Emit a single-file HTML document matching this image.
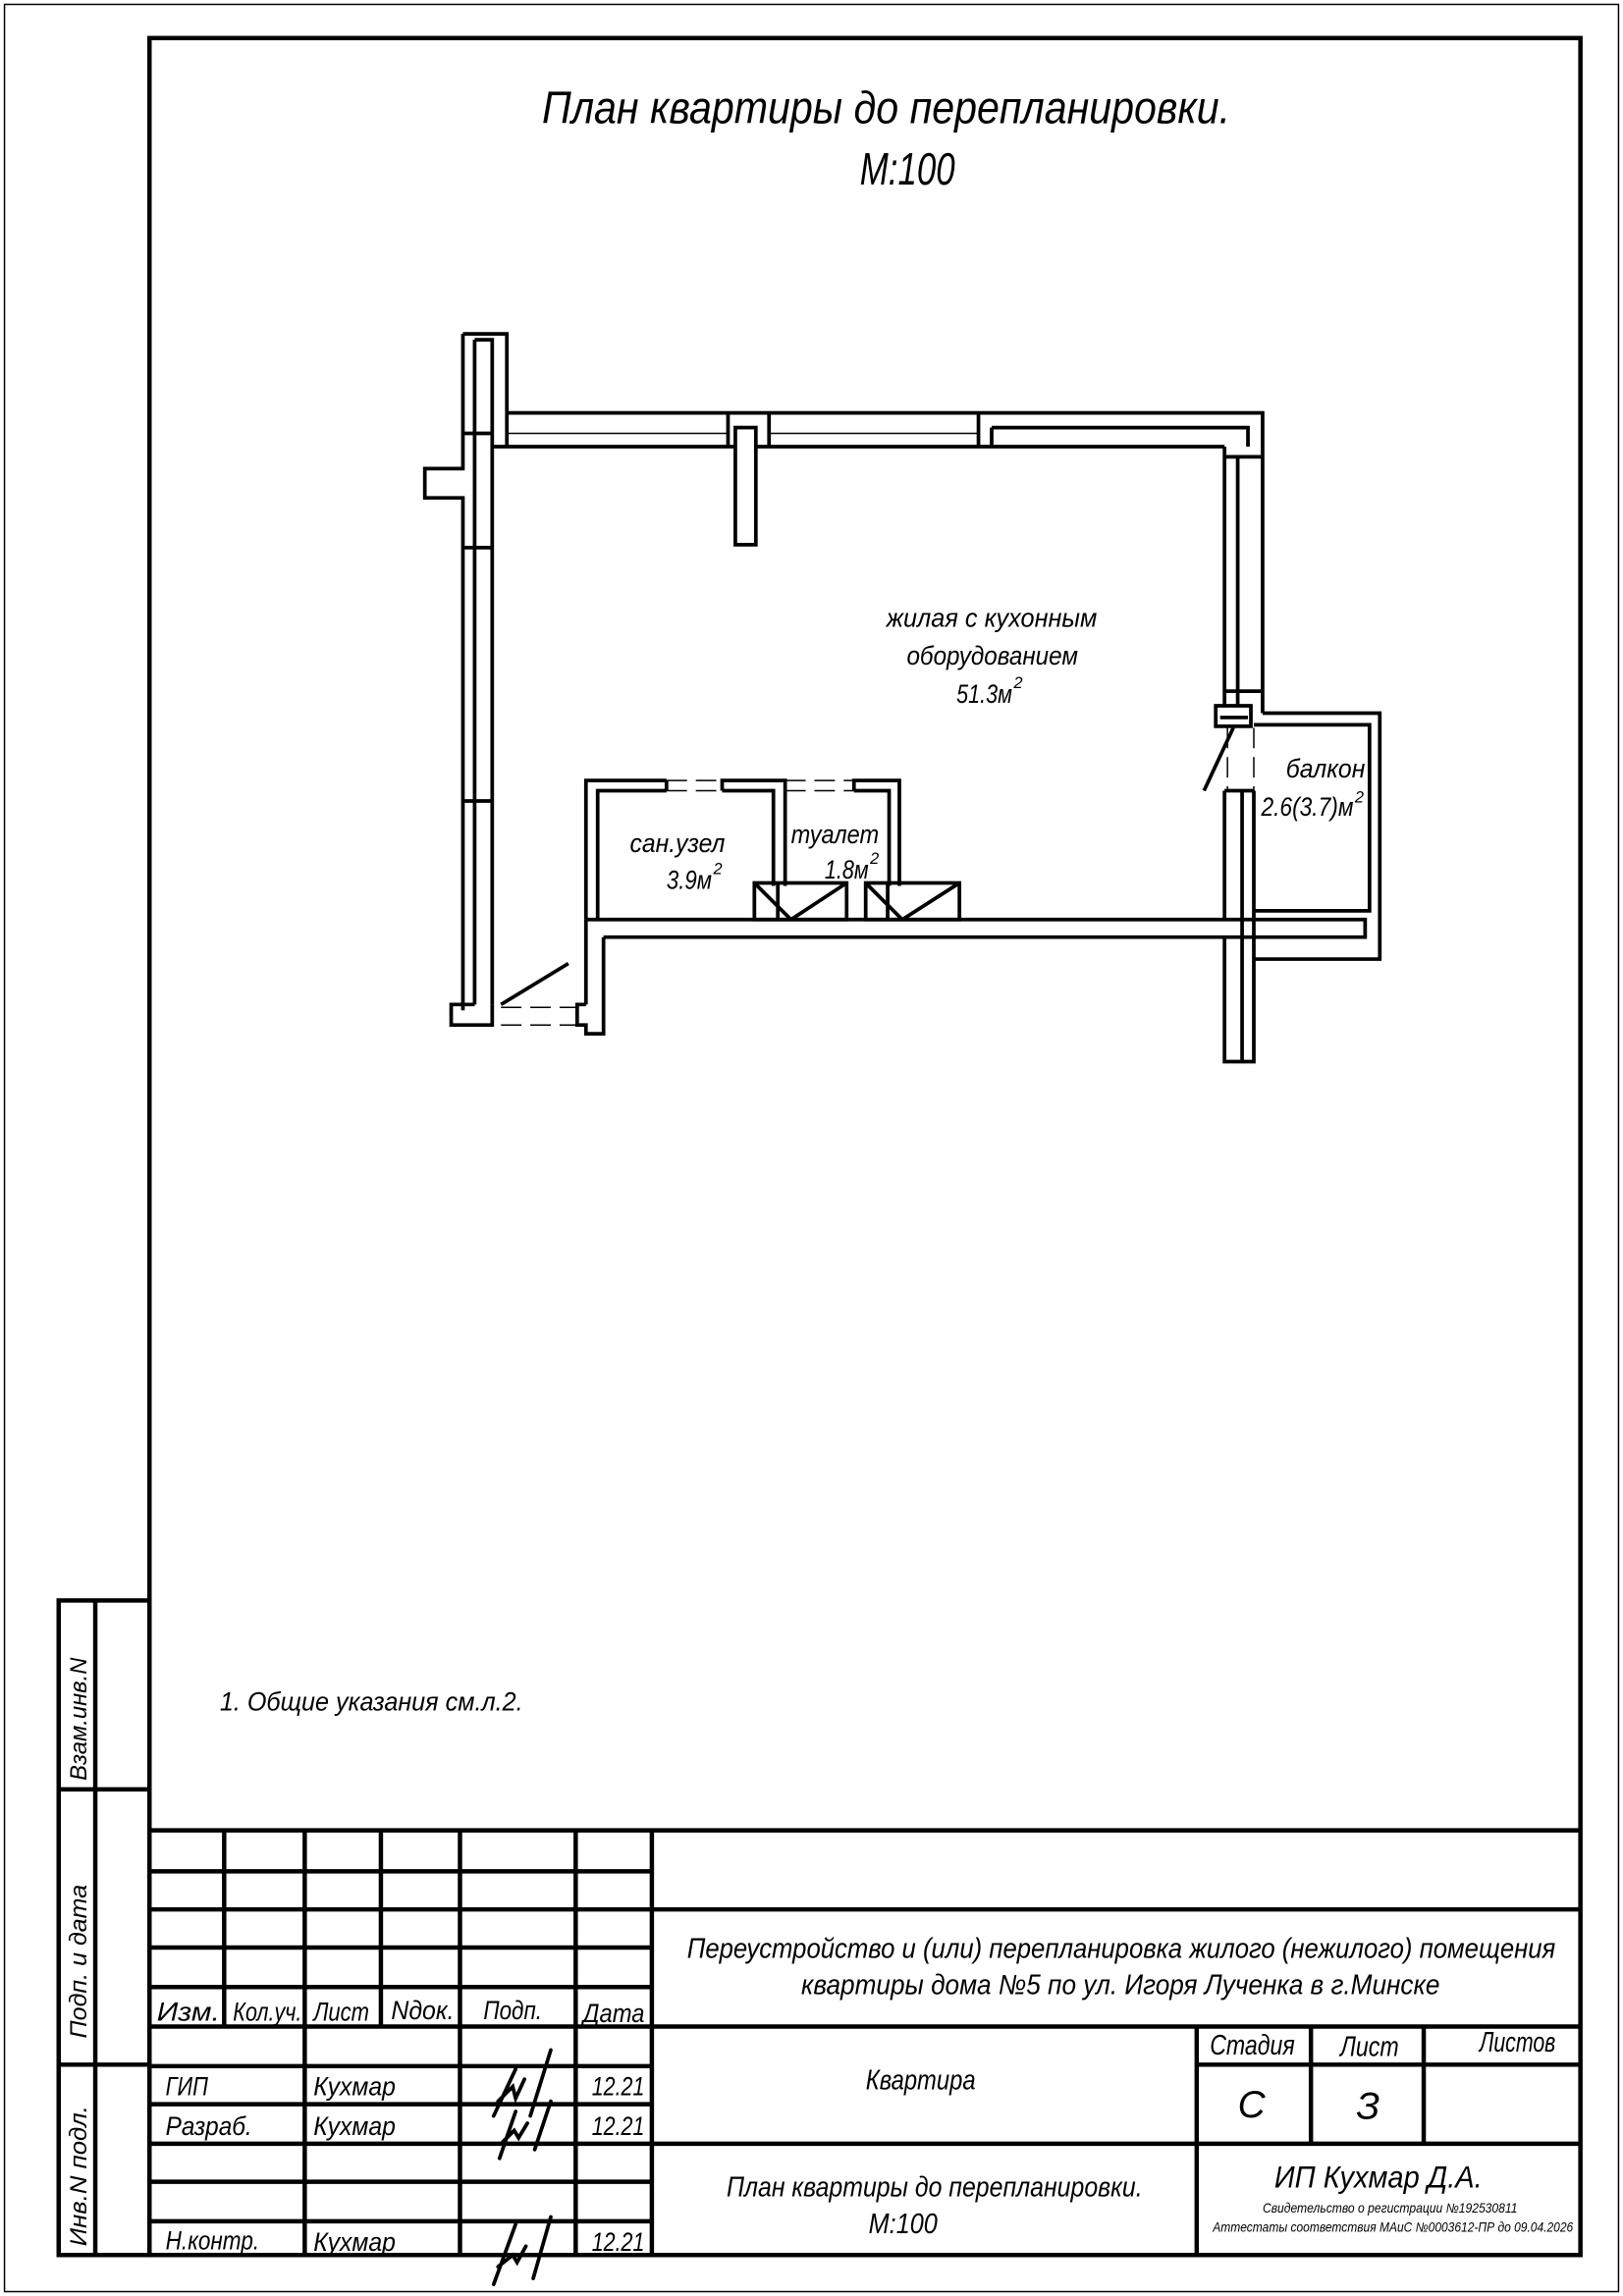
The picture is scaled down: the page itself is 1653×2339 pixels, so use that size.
<!DOCTYPE html>
<html><head><meta charset="utf-8"><style>
html,body{margin:0;padding:0;background:#fff}
svg{display:block}
text{font-family:"Liberation Sans Narrow","Liberation Sans",sans-serif;font-style:italic;fill:#000}
</style></head><body>
<svg width="1653" height="2339" viewBox="0 0 1108 1568" xmlns="http://www.w3.org/2000/svg">
<rect x="0" y="0" width="1108" height="1568" fill="#fff"/>
<rect x="3" y="3" width="1102" height="1562" fill="none" stroke="#000" stroke-width="1"/>
<rect x="102" y="26" width="977" height="1514" fill="none" stroke="#000" stroke-width="3"/>
<g stroke="#000" stroke-width="3" fill="none">
<rect x="40" y="1093" width="62" height="447"/>
<line x1="65" y1="1093" x2="65" y2="1540"/>
<line x1="40" y1="1222" x2="102" y2="1222"/>
<line x1="40" y1="1410" x2="102" y2="1410"/>
</g>
<text transform="translate(59,1216) rotate(-90)" font-size="16" textLength="84" lengthAdjust="spacingAndGlyphs">Взам.инв.N</text>
<text transform="translate(59,1392) rotate(-90)" font-size="16" textLength="105" lengthAdjust="spacingAndGlyphs">Подп. и дата</text>
<text transform="translate(59,1534) rotate(-90)" font-size="16" textLength="96" lengthAdjust="spacingAndGlyphs">Инв.N подл.</text>

<g stroke="#000" stroke-width="3" fill="none">
<line x1="102" y1="1250" x2="1079" y2="1250"/>
<line x1="445" y1="1304" x2="1079" y2="1304"/>
<line x1="445" y1="1384" x2="1079" y2="1384"/>
<line x1="445" y1="1464" x2="1079" y2="1464"/>
<line x1="817" y1="1384" x2="817" y2="1540"/>
<line x1="895" y1="1384" x2="895" y2="1464"/>
<line x1="972" y1="1384" x2="972" y2="1464"/>
<line x1="817" y1="1410" x2="1079" y2="1410"/>
<line x1="445" y1="1250" x2="445" y2="1540"/>
<line x1="102" y1="1278" x2="445" y2="1278"/>
<line x1="102" y1="1304" x2="445" y2="1304"/>
<line x1="102" y1="1330" x2="445" y2="1330"/>
<line x1="102" y1="1357" x2="445" y2="1357"/>
<line x1="102" y1="1384" x2="445" y2="1384"/>
<line x1="102" y1="1411" x2="445" y2="1411"/>
<line x1="102" y1="1437" x2="445" y2="1437"/>
<line x1="102" y1="1464" x2="445" y2="1464"/>
<line x1="102" y1="1490" x2="445" y2="1490"/>
<line x1="102" y1="1517" x2="445" y2="1517"/>
<line x1="153" y1="1250" x2="153" y2="1384"/>
<line x1="260" y1="1250" x2="260" y2="1384"/>
<line x1="208" y1="1250" x2="208" y2="1540"/>
<line x1="314" y1="1250" x2="314" y2="1540"/>
<line x1="393" y1="1250" x2="393" y2="1540"/>
</g>
<g font-size="18">
<text x="107" y="1380" textLength="43" lengthAdjust="spacingAndGlyphs">Изм.</text>
<text x="159" y="1380" textLength="47" lengthAdjust="spacingAndGlyphs">Кол.уч.</text>
<text x="214" y="1380" textLength="38" lengthAdjust="spacingAndGlyphs">Лист</text>
<text x="267" y="1379" textLength="43" lengthAdjust="spacingAndGlyphs">Nдок.</text>
<text x="330" y="1379" textLength="40" lengthAdjust="spacingAndGlyphs">Подп.</text>
<text x="398" y="1381" textLength="42" lengthAdjust="spacingAndGlyphs">Дата</text>
<text x="113" y="1431" textLength="29" lengthAdjust="spacingAndGlyphs">ГИП</text>
<text x="214" y="1431" textLength="56" lengthAdjust="spacingAndGlyphs">Кухмар</text>
<text x="404" y="1431" textLength="36" lengthAdjust="spacingAndGlyphs">12.21</text>
<text x="113" y="1458" textLength="59" lengthAdjust="spacingAndGlyphs">Разраб.</text>
<text x="214" y="1458" textLength="56" lengthAdjust="spacingAndGlyphs">Кухмар</text>
<text x="404" y="1458" textLength="36" lengthAdjust="spacingAndGlyphs">12.21</text>
<text x="113" y="1536" textLength="64" lengthAdjust="spacingAndGlyphs">Н.контр.</text>
<text x="214" y="1537" textLength="56" lengthAdjust="spacingAndGlyphs">Кухмар</text>
<text x="404" y="1537" textLength="36" lengthAdjust="spacingAndGlyphs">12.21</text>
</g>
<g font-size="19">
<text x="469" y="1337" textLength="593" lengthAdjust="spacingAndGlyphs">Переустройство и (или) перепланировка жилого (нежилого) помещения</text>
<text x="547" y="1362" textLength="436" lengthAdjust="spacingAndGlyphs">квартиры дома №5 по ул. Игоря Лученка в г.Минске</text>
<text x="591" y="1427" textLength="75" lengthAdjust="spacingAndGlyphs">Квартира</text>
<text x="496" y="1500" textLength="284" lengthAdjust="spacingAndGlyphs">План квартиры до перепланировки.</text>
<text x="593" y="1525" textLength="47" lengthAdjust="spacingAndGlyphs">М:100</text>
<text x="826" y="1403" textLength="58" lengthAdjust="spacingAndGlyphs">Стадия</text>
<text x="915" y="1404" textLength="40" lengthAdjust="spacingAndGlyphs">Лист</text>
<text x="1010" y="1401" textLength="52" lengthAdjust="spacingAndGlyphs">Листов</text>
<text x="845" y="1446" font-size="26">С</text>
<text x="926" y="1447" font-size="26">З</text>
<text x="870" y="1494" font-size="21" textLength="142" lengthAdjust="spacingAndGlyphs">ИП Кухмар Д.А.</text>
<text x="862" y="1511" font-size="9" textLength="174" lengthAdjust="spacingAndGlyphs">Свидетельство о регистрации №192530811</text>
<text x="828" y="1524" font-size="9" textLength="246" lengthAdjust="spacingAndGlyphs">Аттестаты соответствия МАиС №0003612-ПР до 09.04.2026</text>
</g>
<g stroke="#000" stroke-width="2.5" fill="none" stroke-linecap="round">
<path d="M352,1413 L337,1445 M340,1435 L350,1425 L352,1433 L358,1420 M376,1400 L362,1445"/>
<path d="M352,1442 L341,1474 M343,1463 L351,1455 L354,1460 L360,1450 M376,1435 L365,1468"/>
<path d="M352,1519 L337,1560 M340,1548 L350,1540 L353,1545 L359,1534 M376,1514 L364,1556"/>
</g>

<text x="370" y="84" font-size="31" textLength="470" lengthAdjust="spacingAndGlyphs">План квартиры до перепланировки.</text>
<text x="587" y="126" font-size="31" textLength="65" lengthAdjust="spacingAndGlyphs">М:100</text>
<text x="150" y="1168" font-size="18" textLength="207" lengthAdjust="spacingAndGlyphs">1.  Общие указания см.л.2.</text>

<g stroke="#000" stroke-width="2.5" fill="none">
<path d="M316,228 H346 V282"/>
<path d="M316,228 V320 H290 V340 H316 V690"/>
<path d="M324,232 H336 V296"/>
<line x1="324" y1="232" x2="324" y2="686"/>
<line x1="336" y1="296" x2="336" y2="686"/>
<line x1="316" y1="296" x2="336" y2="296"/>
<line x1="316" y1="374" x2="336" y2="374"/>
<line x1="316" y1="547" x2="336" y2="547"/>
<path d="M346,282 H862 V487"/>
<line x1="336" y1="305" x2="502" y2="305"/>
<line x1="516" y1="305" x2="836" y2="305"/>
<line x1="346" y1="282" x2="346" y2="305"/>
<line x1="497" y1="282" x2="497" y2="305"/>
<line x1="525" y1="282" x2="525" y2="305"/>
<line x1="668" y1="282" x2="668" y2="305"/>
<line x1="677" y1="292" x2="677" y2="305"/>
<path d="M677,292 H852 V305"/>
<rect x="502" y="292" width="14" height="80"/>
<line x1="836" y1="305" x2="836" y2="482"/>
<line x1="845" y1="312" x2="845" y2="482"/>
<line x1="836" y1="312" x2="862" y2="312"/>
<line x1="836" y1="472" x2="862" y2="472"/>
<rect x="830" y="482" width="24" height="14"/>
<line x1="833" y1="490" x2="852" y2="490"/>
<line x1="842" y1="497" x2="822" y2="540"/>
<path d="M862,487 H942 V655 H856"/>
<path d="M856,495 H935 V622 H856"/>
<path d="M856,540 V725 H836 V640"/>
<path d="M836,540 H856"/>
<line x1="836" y1="540" x2="836" y2="628"/>
<line x1="848" y1="540" x2="848" y2="725"/>
<path d="M400,628 H932 V640 H412"/>
<line x1="400" y1="628" x2="400" y2="686"/>
<path d="M455,533 H400 V628"/>
<path d="M455,540 H408 V628"/>
<line x1="455" y1="533" x2="455" y2="540"/>
<path d="M493,540 V533 H536 V605"/>
<path d="M493,540 H528 V605"/>
<path d="M583,540 V533 H614 V605"/>
<path d="M583,540 H607 V605"/>
<rect x="515" y="603" width="63" height="25"/>
<line x1="531" y1="603" x2="531" y2="628"/>
<line x1="515" y1="603" x2="540" y2="628"/>
<line x1="540" y1="628" x2="578" y2="603"/>
<rect x="591" y="603" width="64" height="25"/>
<line x1="606" y1="603" x2="606" y2="628"/>
<line x1="591" y1="603" x2="616" y2="628"/>
<line x1="616" y1="628" x2="655" y2="603"/>
<path d="M412,640 V706 H400 V700 H394 V686 H400"/>
<path d="M336,686 V700 H308 V686 H324"/>
<line x1="342" y1="686" x2="388" y2="658"/>
</g>
<g stroke="#000" stroke-width="1" fill="none" stroke-dasharray="14,6">
<line x1="455" y1="533" x2="493" y2="533"/>
<line x1="455" y1="540" x2="493" y2="540"/>
<line x1="536" y1="533" x2="583" y2="533"/>
<line x1="536" y1="540" x2="583" y2="540"/>
<line x1="342" y1="688" x2="394" y2="688"/>
<line x1="342" y1="700" x2="394" y2="700"/>
<line x1="838" y1="497" x2="838" y2="540"/>
<line x1="856" y1="497" x2="856" y2="540"/>
</g>
<g stroke="#000" stroke-width="1">
<line x1="346" y1="296" x2="497" y2="296"/>
<line x1="525" y1="296" x2="668" y2="296"/>
</g>
<g font-size="18">
<text x="605" y="428" textLength="144" lengthAdjust="spacingAndGlyphs">жилая с кухонным</text>
<text x="619" y="454" textLength="117" lengthAdjust="spacingAndGlyphs">оборудованием</text>
<text x="653" y="480" textLength="38" lengthAdjust="spacingAndGlyphs">51.3м</text>
<text x="692" y="470" font-size="11">2</text>
<text x="878" y="531" textLength="54" lengthAdjust="spacingAndGlyphs">балкон</text>
<text x="861" y="557" textLength="63" lengthAdjust="spacingAndGlyphs">2.6(3.7)м</text>
<text x="925" y="548" font-size="11">2</text>
<text x="430" y="582" textLength="65" lengthAdjust="spacingAndGlyphs">сан.узел</text>
<text x="455" y="607" textLength="31" lengthAdjust="spacingAndGlyphs">3.9м</text>
<text x="487" y="597" font-size="11">2</text>
<text x="540" y="576" textLength="60" lengthAdjust="spacingAndGlyphs">туалет</text>
<text x="563" y="600" textLength="30" lengthAdjust="spacingAndGlyphs">1.8м</text>
<text x="594" y="590" font-size="11">2</text>
</g>
</svg>
</body></html>
